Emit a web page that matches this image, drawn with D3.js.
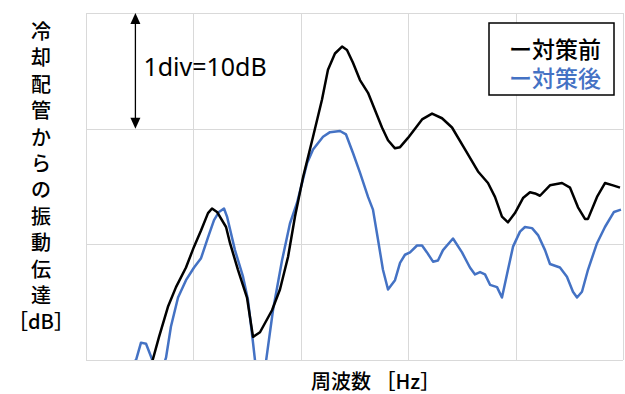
<!DOCTYPE html>
<meta charset="utf-8">
<style>
    body {
        margin: 0;
        background: #fff;
    }

    svg {
        font-family: "Noto Sans CJK JP", "Noto Sans", sans-serif;
    }

    .grid line {
        stroke: #d9d9d9;
        stroke-width: 1;
        shape-rendering: crispEdges;
    }

    .curve {
        fill: none;
        stroke-width: 2.5;
        stroke-linejoin: round;
    }
</style>
<body>
<script src="https://d3js.org/d3.v7.min.js"></script>
<script>
    // frequency (arbitrary Hz scale, 5 divisions) and level in dB
    const before = [
        [61.5, -0.2], [68.0, 2.0], [76.3, 4.6], [83.8, 6.3], [93.1, 8.0], [100.6, 9.8],
        [107.1, 11.2], [113.6, 12.7], [117.3, 13.1], [122.0, 12.8], [130.4, 11.5], [134.1, 10.1],
        [141.5, 7.8], [149.9, 5.4], [155.5, 2.0], [162.0, 2.4], [173.2, 4.3], [180.6, 6.1],
        [188.1, 8.9], [194.6, 12.4], [202.1, 15.8], [211.4, 19.3], [219.7, 22.5], [225.3, 25.1],
        [231.8, 26.5], [238.4, 27.1], [243.0, 26.8], [248.6, 25.7], [255.1, 24.2], [262.6, 23.1],
        [275.6, 20.1], [281.2, 19.0], [287.7, 18.3], [292.4, 18.4], [299.8, 19.2], [312.9, 20.8],
        [322.2, 21.3], [331.5, 20.9], [340.8, 20.1], [352.9, 18.2], [365.0, 16.3], [374.3, 15.3],
        [380.8, 14.1], [387.3, 12.4], [392.9, 11.9], [399.4, 12.7], [406.9, 14.0], [413.4, 14.5],
        [418.1, 14.4], [422.7, 14.2], [432.0, 15.1], [443.2, 15.3], [450.7, 14.9], [458.1, 13.2],
        [464.6, 12.2], [467.4, 12.2], [475.8, 14.1], [483.2, 15.3], [490.7, 15.1], [497.2, 14.9]
    ];

    const after = [
        [43.8, -0.2], [46.6, 0.0], [51.2, 1.5], [55.9, 1.4], [60.5, 0.3], [64.2, -0.6],
        [71.7, -0.6], [74.5, 0.2], [79.1, 2.9], [85.7, 5.4], [93.1, 6.9], [100.6, 8.0],
        [107.1, 8.8], [113.6, 10.6], [119.2, 12.1], [123.8, 12.8], [128.5, 13.1], [131.3, 12.4],
        [138.7, 9.5], [146.2, 7.2], [150.8, 5.2], [155.5, 1.5], [158.3, -0.8], [166.6, -0.8],
        [174.1, 4.3], [182.5, 8.6], [189.9, 11.8], [196.5, 13.6], [205.8, 17.0], [211.4, 18.2],
        [220.7, 19.3], [227.2, 19.7], [236.5, 19.8], [242.1, 19.5], [248.6, 17.9], [255.1, 16.2],
        [262.6, 14.1], [267.2, 13.0], [271.9, 10.4], [276.5, 7.8], [281.2, 6.1], [287.7, 6.9],
        [292.4, 8.4], [297.0, 9.1], [301.7, 9.3], [308.2, 9.9], [312.9, 9.9], [317.5, 9.3],
        [323.1, 8.5], [327.7, 8.6], [332.4, 9.5], [341.7, 10.5], [350.1, 9.3], [357.5, 8.0],
        [362.2, 7.4], [366.9, 7.6], [371.5, 7.4], [376.2, 6.5], [382.7, 6.3], [387.3, 5.4],
        [392.9, 7.8], [397.6, 9.8], [404.1, 11.1], [408.7, 11.5], [415.3, 11.4], [420.9, 10.8],
        [427.4, 9.5], [432.0, 8.3], [441.3, 8.0], [447.8, 7.2], [453.4, 5.9], [457.2, 5.4],
        [461.8, 5.9], [467.4, 7.8], [475.8, 10.1], [483.2, 11.5], [491.6, 12.8], [498.1, 13.0]
    ];

    const xTicks = [0, 100, 200, 300, 400, 500];
    const yTicks = [0, 10, 20, 30];
    const seriesNames = ["ー対策前", "ー対策後"];
    const seriesColors = ["#000000", "#4472c4"];
    const yLabel = ["冷", "却", "配", "管", "か", "ら", "の", "振", "動", "伝", "達", "［dB］"];
    const xLabel = "周波数 ［Hz］";
    const divLabel = "1div=10dB";

    const margin = {top: 13, right: 2, bottom: 34, left: 86};
    const width = 625 - margin.left - margin.right;
    const height = 394 - margin.top - margin.bottom;

    const svg = d3.select("body")
        .append("svg")
        .attr("width", 625)
        .attr("height", 394);

    const g = svg.append("g")
        .attr("transform", "translate(" + margin.left + "," + margin.top + ")");

    const x = d3.scaleLinear().domain([0, 500]).range([0, width]);
    const y = d3.scaleLinear().domain([0, 30]).range([height, 0]);

    // grid
    const grid = g.append("g").attr("class", "grid");
    grid.selectAll(".v").data(xTicks).enter().append("line")
        .attr("x1", d => Math.round(x(d)) + 0.5).attr("x2", d => Math.round(x(d)) + 0.5)
        .attr("y1", 0).attr("y2", height);
    grid.selectAll(".h").data(yTicks).enter().append("line")
        .attr("y1", d => Math.round(y(d)) + 0.5).attr("y2", d => Math.round(y(d)) + 0.5)
        .attr("x1", 0).attr("x2", width);

    g.append("clipPath").attr("id", "clip")
        .append("rect").attr("width", width).attr("height", height);

    const line = d3.line()
        .x(d => x(d[0]))
        .y(d => y(d[1]));

    g.append("g").attr("clip-path", "url(#clip)")
        .selectAll(".curve")
        .data([after, before])
        .enter().append("path")
        .attr("class", "curve")
        .attr("stroke", (d, i) => seriesColors[1 - i])
        .attr("d", line);

    // 1div arrow
    const ax = x(46);
    const y0 = y(30), y1 = y(20);
    g.append("line")
        .attr("x1", ax).attr("x2", ax)
        .attr("y1", y0 + 8).attr("y2", y1 - 8)
        .attr("stroke", "#000").attr("stroke-width", 1.3);
    g.append("path")
        .attr("d", "M" + ax + "," + y0 + "L" + (ax - 5) + "," + (y0 + 11) + "L" + (ax + 5) + "," + (y0 + 11) + "Z")
        .attr("fill", "#000");
    g.append("path")
        .attr("d", "M" + ax + "," + y1 + "L" + (ax - 5) + "," + (y1 - 11) + "L" + (ax + 5) + "," + (y1 - 11) + "Z")
        .attr("fill", "#000");
    g.append("text")
        .attr("x", ax + 8)
        .attr("y", 63)
        .attr("font-family", "'Noto Sans', 'Open Sans', sans-serif")
        .attr("font-size", 25)
        .attr("fill", "#000")
        .text(divLabel);

    // legend
    const legend = svg.append("g").attr("class", "legend");
    legend.append("rect")
        .attr("x", 489).attr("y", 23)
        .attr("width", 125).attr("height", 72)
        .attr("fill", "#fff")
        .attr("stroke", "#000")
        .attr("stroke-width", 1.5);
    legend.selectAll("text")
        .data(seriesNames)
        .enter().append("text")
        .attr("x", 601)
        .attr("y", (d, i) => 58 + i * 29)
        .attr("text-anchor", "end")
        .attr("font-size", 23)
        .attr("font-weight", 500)
        .attr("fill", (d, i) => seriesColors[i])
        .text(d => d);

    // axis titles
    svg.append("g").selectAll("text")
        .data(yLabel)
        .enter().append("text")
        .attr("x", 41)
        .attr("y", (d, i) => 39 + i * 26.4)
        .attr("text-anchor", "middle")
        .attr("font-size", 20)
        .attr("font-weight", 500)
        .attr("fill", "#000")
        .text(d => d);

    svg.append("text")
        .attr("x", 311)
        .attr("y", 389)
        .attr("font-size", 20)
        .attr("font-weight", 500)
        .attr("fill", "#000")
        .text(xLabel);
</script>
</body>
</html>
